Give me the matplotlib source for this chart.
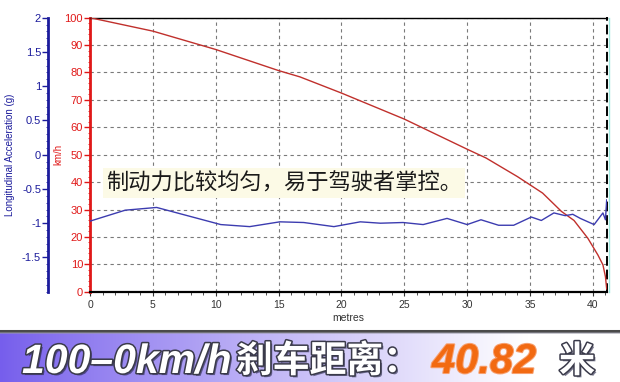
import numpy as np
import matplotlib
matplotlib.use("Agg")
import matplotlib.pyplot as plt
import matplotlib.patheffects as pe
from matplotlib.lines import Line2D
from matplotlib.ticker import MultipleLocator

# ---- data ----
speed_x = [0, 5, 10, 15, 16.7, 20, 25, 30, 31.5, 34, 36, 37.5, 38.5, 39.6, 40.4, 40.8, 41.0, 41.1]
speed_kmh = [100, 95.1, 88.4, 80.7, 78.4, 72.5, 63.0, 52.0, 48.8, 42.0, 36.0, 29.3, 26.0, 19.5, 13.4, 9.8, 5.5, 1.0]

acc_x = [0, 2.8, 5.3, 10.4, 12.7, 15.1, 17.0, 19.4, 21.5, 23.1, 24.9, 26.5, 28.4, 30.0, 31.1,
         32.5, 33.7, 35.1, 35.9, 36.9, 37.8, 38.4, 39.0, 40.1, 40.8, 41.0, 41.1]
acc_g = [-0.97, -0.81, -0.77, -1.02, -1.05, -0.98, -0.99, -1.05, -0.98, -1.0, -0.99, -1.02, -0.93, -1.02, -0.95,
         -1.03, -1.03, -0.91, -0.96, -0.85, -0.89, -0.87, -0.93, -1.02, -0.85, -0.95, -0.66]

x_ticks = [0, 5, 10, 15, 20, 25, 30, 35, 40]
kmh_ticks = [0, 10, 20, 30, 40, 50, 60, 70, 80, 90, 100]
g_ticks = [-1.5, -1, -0.5, 0, 0.5, 1, 1.5, 2]
g_labels = ["-1.5", "-1", "-0.5", "0", "0.5", "1", "1.5", "2"]

note_text = "制动力比较均匀，易于驾驶者掌控。"
banner_speed = "100–0km/h"
banner_label = "刹车距离："
banner_value = "40.82"
banner_unit = "米"

W, H = 620, 382
fig = plt.figure(figsize=(W / 100, H / 100), dpi=100)
fig.patch.set_facecolor("white")

L, R, T, B = 90, 606.7, 17.7, 291.7
ax = fig.add_axes([L / W, 1 - B / H, (R - L) / W, (B - T) / H])
ax.set_xlim(0, 41.1)
ax.set_ylim(0, 100)

red_axis = "#e01818"
blue_axis = "#1c1c9c"
tick_font = "Liberation Sans"

ax.plot(speed_x, speed_kmh, color="#c0302c", lw=1.0, zorder=3)

ax.set_xticks(x_ticks)
ax.xaxis.set_minor_locator(MultipleLocator(1))
ax.set_yticks(kmh_ticks)
ax.yaxis.set_minor_locator(MultipleLocator(2))
ax.tick_params(axis="x", which="major", length=3, width=0.8, colors="#333333", labelsize=7.5, pad=3)
ax.tick_params(axis="x", which="minor", length=2, width=0.6, colors="#333333")
ax.tick_params(axis="y", which="major", length=4, width=1.0, colors=red_axis, labelsize=8, pad=1)
ax.tick_params(axis="y", which="minor", length=1.5, width=0.6, colors=red_axis)
for lab in ax.get_xticklabels() + ax.get_yticklabels():
    lab.set_fontfamily(tick_font)
ax.set_xlabel("metres", fontsize=7.5, color="#333333", labelpad=2, fontfamily=tick_font)
ax.set_ylabel("km/h", fontsize=7, color=red_axis, labelpad=1, fontfamily=tick_font)

ax.grid(True, which="major", color="#7a7a7a", linestyle=(0, (3, 3)), linewidth=0.8)
ax.spines["left"].set_color(red_axis)
ax.spines["left"].set_linewidth(2.0)
ax.spines["bottom"].set_color("black")
ax.spines["bottom"].set_linewidth(1.6)
ax.spines["top"].set_color("black")
ax.spines["top"].set_linewidth(1.0)
ax.spines["right"].set_color("black")
ax.spines["right"].set_linewidth(1.4)
ax.spines["right"].set_linestyle((0, (4, 3)))

# cyan thin line right of the frame
fig.add_artist(Line2D([(R + 2) / W, (R + 2) / W], [1 - B / H, 1 - T / H],
                      color="#9fe8e0", lw=1.0))

# acceleration axis
ax2 = ax.twinx()
ax2.set_ylim(-2, 2)
ax2.plot(acc_x, acc_g, color="#3c3cb0", lw=1.0, zorder=3)
ax2.yaxis.set_ticks_position("left")
ax2.yaxis.set_label_position("left")
ax2.spines["left"].set_position(("axes", (48 - L) / (R - L)))
ax2.spines["left"].set_visible(True)
ax2.spines["left"].set_color(blue_axis)
ax2.spines["left"].set_linewidth(2.0)
for s in ["right", "top", "bottom"]:
    ax2.spines[s].set_visible(False)
ax2.set_yticks(g_ticks)
ax2.set_yticklabels(g_labels)
ax2.yaxis.set_minor_locator(MultipleLocator(0.1))
ax2.tick_params(axis="y", which="major", length=4, width=1.0, colors=blue_axis, labelsize=8, pad=1)
ax2.tick_params(axis="y", which="minor", length=1.5, width=0.6, colors=blue_axis)
for lab in ax2.get_yticklabels():
    lab.set_fontfamily(tick_font)
ax2.set_ylabel("Longitudinal Acceleration (g)", fontsize=7, color=blue_axis,
               labelpad=5, fontfamily=tick_font)

# annotation
fig.text(106 / W, 1 - 183 / H, note_text, fontsize=16, color="#1a1a1a",
         family=["Noto Sans CJK SC", "DejaVu Sans"], ha="left", va="center",
         bbox=dict(boxstyle="square,pad=0.15", facecolor="#fcfae6", edgecolor="none"),
         zorder=10)

# banner
btop = 330
bax = fig.add_axes([0, 0, 1, (H - btop) / H])
grad = np.linspace(0, 1, 400)
c0 = np.array([118, 94, 236]) / 255.0
c1 = np.array([1.0, 1.0, 1.0])
t = np.clip(grad / 0.85, 0, 1) ** 0.9
img = (c0[None, :] * (1 - t[:, None]) + c1[None, :] * t[:, None])[None, :, :]
bax.imshow(img, aspect="auto", extent=[0, 1, 0, 1])
bax.set_xlim(0, 1)
bax.set_ylim(0, 1)
bax.axis("off")
fig.add_artist(Line2D([0, 1], [1 - (btop + 1) / H] * 2, color="#4a4a4a", lw=2.2))
fig.add_artist(Line2D([0, 1], [1 - (btop + 3) / H] * 2, color="#9a9aa8", lw=1.2, alpha=0.6))

outline = [pe.SimplePatchShadow(offset=(1.5, -1.5), shadow_rgbFace="#222244", alpha=0.6),
           pe.withStroke(linewidth=2.2, foreground="#3a3a4a")]
base_y = 1 - 373 / H
cjk = ["Noto Sans CJK SC", "DejaVu Sans"]
fig.text(22 / W, base_y, banner_speed, fontsize=29.5, color="white", fontweight="bold",
         style="italic", family="Liberation Sans", ha="left", va="baseline", path_effects=outline)
fig.text(236 / W, base_y + 1 / H, banner_label, fontsize=26.5, color="white", fontweight="bold",
         family=cjk, ha="left", va="baseline", path_effects=outline)
fig.text(432 / W, base_y, banner_value, fontsize=30, color="#f26a12", fontweight="bold",
         style="italic", family="Liberation Sans", ha="left", va="baseline",
         path_effects=[pe.withStroke(linewidth=1.5, foreground="#f7a070")])
fig.text(559 / W, base_y + 1 / H, banner_unit, fontsize=26, color="white", fontweight="bold",
         family=cjk, ha="left", va="baseline", path_effects=outline)

fig.savefig("out.png", dpi=100)
